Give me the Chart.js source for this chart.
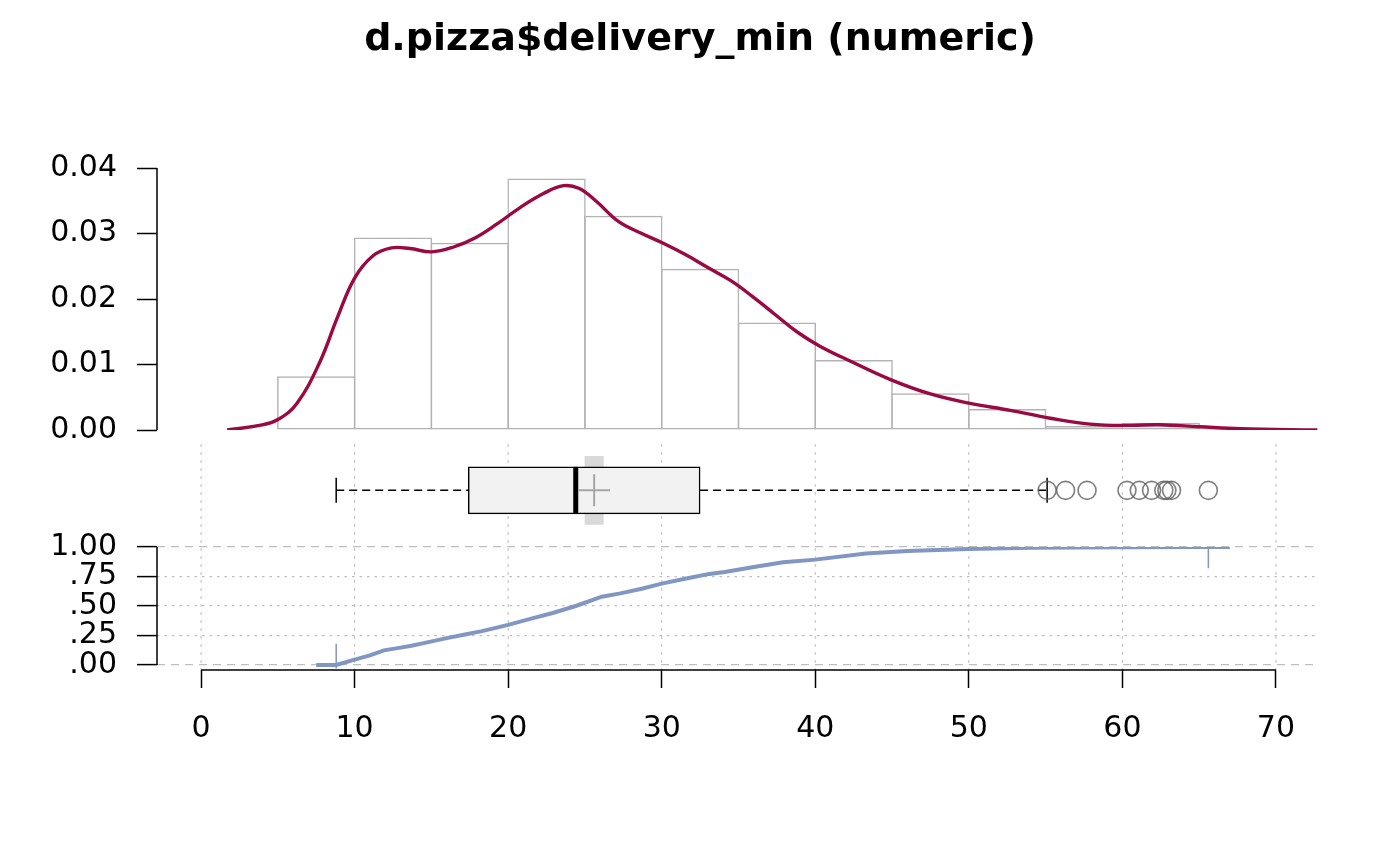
<!DOCTYPE html>
<html>
<head>
<meta charset="utf-8">
<script src="https://cdn.jsdelivr.net/npm/chart.js@4.4.1/dist/chart.umd.min.js"></script>
<style>
  html, body { margin: 0; padding: 0; background: #fff; }
  #wrap { width: 1400px; height: 866px; }
</style>
</head>
<body>
<div id="wrap"><canvas id="chart"></canvas></div>
<script>
// histogram: bin mids (width 5) and density
var binMids = [7.5, 12.5, 17.5, 22.5, 27.5, 32.5, 37.5, 42.5, 47.5, 52.5, 57.5, 62.5, 67.5];
var binDensity = [0.0082, 0.0294, 0.0286, 0.0384, 0.0327, 0.0246, 0.0164, 0.0107, 0.0056, 0.0032, 0.0006, 0.0011, 0.0002];

// kernel density
var densX = [1.7, 3.8, 5.0, 6.25, 7.7, 8.9, 10.0, 11.2, 12.4, 13.6, 15.0, 16.4, 17.9, 19.3, 20.8,
  22.3, 23.6, 24.6, 25.7, 27.2, 28.7, 30.1, 31.6, 33.0, 34.5, 35.9, 37.4, 38.8, 40.3, 42.3,
  44.9, 47.5, 50.0, 52.7, 55.3, 57.9, 60.5, 62.4, 65.0, 67.7, 72.7];
var densY = [0.0000, 0.0007, 0.0016, 0.0041, 0.0102, 0.0173, 0.0232, 0.0266, 0.0278, 0.0277, 0.0272, 0.0279, 0.0294, 0.0315, 0.0340,
  0.0361, 0.0373, 0.0369, 0.0350, 0.0318, 0.0300, 0.0285, 0.0267, 0.0248, 0.0228, 0.0204, 0.0176, 0.0150, 0.0128, 0.0105,
  0.0077, 0.0055, 0.0041, 0.0030, 0.0018, 0.0009, 0.0007, 0.0008, 0.0005, 0.0002, 0.0000];

// boxplot: whisker low, Q1, median, Q3, whisker high
var boxStats = [8.8, 17.4, 24.4, 32.5, 55.1];
var meanValue = 25.6;
var meanCI = [25.0, 26.2];
var outliers = [55.1, 56.3, 57.7, 60.3, 61.1, 61.9, 62.7, 62.9, 63.2, 65.6];

// empirical cdf
var ecdfX = [7.5, 8.8, 10.0, 11.0, 11.9, 12.8, 13.7, 14.8, 16.0, 17.1, 18.3, 20.0, 21.5, 22.9, 24.4,
  26.1, 27.3, 28.7, 30.0, 31.6, 33.1, 34.1, 36.0, 37.9, 40.0, 43.3, 46.0, 50.0, 54.1, 60.0, 65.6, 67.0];
var ecdfY = [0, 0, 0.045, 0.081, 0.124, 0.143, 0.163, 0.194, 0.228, 0.256, 0.287, 0.340, 0.393, 0.441, 0.500,
  0.579, 0.607, 0.646, 0.690, 0.733, 0.772, 0.789, 0.830, 0.870, 0.893, 0.944, 0.966, 0.983, 0.994, 0.998, 1, 1];
var dataRange = [8.8, 65.6];

var xTicks = [0, 10, 20, 30, 40, 50, 60, 70];
var histTicks = [0, 0.01, 0.02, 0.03, 0.04];
var ecdfTicks = [0, 0.25, 0.5, 0.75, 1];
var ecdfTickLabels = [".00", ".25", ".50", ".75", "1.00"];

var FONT = "DejaVu Sans";
var tickFont = { family: FONT, size: 30 };

function pts(xs, ys) {
  return xs.map(function (x, i) { return { x: x, y: ys[i] }; });
}
function setTicks(list) {
  return function (s) { s.ticks = list.map(function (v) { return { value: v }; }); };
}
function fixWidth(s) { s.width = 157; }

// R-like axis lines (only between first and last tick) and lower-panel grid
var rStyle = {
  id: "rStyle",
  beforeDatasetsDraw: function (chart) {
    var ctx = chart.ctx, x = chart.scales.x, yb = chart.scales.yBox, area = chart.chartArea;
    ctx.save();
    ctx.strokeStyle = "#C8C8C8";
    ctx.lineWidth = 1.2;
    ctx.setLineDash([3, 5]);
    xTicks.forEach(function (v) {
      var px = x.getPixelForValue(v);
      ctx.beginPath();
      ctx.moveTo(px, yb.top + 14);
      ctx.lineTo(px, area.bottom);
      ctx.stroke();
    });
    ctx.restore();
  },
  afterDraw: function (chart) {
    var ctx = chart.ctx, s = chart.scales;
    function seg(x1, y1, x2, y2) {
      ctx.beginPath(); ctx.moveTo(x1, y1); ctx.lineTo(x2, y2); ctx.stroke();
    }
    ctx.save();
    ctx.strokeStyle = "#000";
    ctx.lineWidth = 1.5;
    seg(s.yHist.right, s.yHist.getPixelForValue(histTicks[0]),
        s.yHist.right, s.yHist.getPixelForValue(histTicks[histTicks.length - 1]));
    seg(s.yEcdf.right, s.yEcdf.getPixelForValue(ecdfTicks[0]),
        s.yEcdf.right, s.yEcdf.getPixelForValue(ecdfTicks[ecdfTicks.length - 1]));
    seg(s.x.getPixelForValue(xTicks[0]), s.x.top,
        s.x.getPixelForValue(xTicks[xTicks.length - 1]), s.x.top);
    ctx.restore();
  }
};

var ctx = document.getElementById("chart").getContext("2d");

var chart = new Chart(ctx, {
  type: "bar",
  data: {
    datasets: [
      {
        type: "line", label: "range", xAxisID: "x", yAxisID: "yEcdf", order: 1,
        data: [{ x: dataRange[0], y: -0.03 }, { x: dataRange[0], y: 0.18 }, { x: dataRange[0], y: null },
               { x: dataRange[1], y: 0.82 }, { x: dataRange[1], y: 1.04 }],
        borderColor: "#8296C4", borderWidth: 1.5, pointRadius: 0, spanGaps: false
      },
      {
        type: "line", label: "ecdf", xAxisID: "x", yAxisID: "yEcdf", order: 2,
        data: pts(ecdfX, ecdfY),
        borderColor: "#8296C4", borderWidth: 4, pointRadius: 0, tension: 0
      },
      {
        type: "line", label: "outliers", xAxisID: "xBox", yAxisID: "yBox", order: 1,
        data: outliers.map(function (v) { return { x: v, y: 0 }; }),
        showLine: false, pointStyle: "circle", pointRadius: 9,
        pointBorderColor: "rgba(95,95,95,0.8)", pointBackgroundColor: "rgba(0,0,0,0)", pointBorderWidth: 1.6
      },
      {
        type: "line", label: "mean", xAxisID: "xBox", yAxisID: "yBox", order: 2,
        data: [{ x: meanValue, y: 0 }],
        showLine: false, pointStyle: "cross", pointRadius: 16,
        pointBorderColor: "#A6A6A6", pointBorderWidth: 2
      },
      {
        type: "line", label: "median", xAxisID: "xBox", yAxisID: "yBox", order: 3,
        data: [{ x: boxStats[2], y: 0 }],
        showLine: false, pointStyle: "line", rotation: 90, pointRadius: 23.5,
        pointBorderColor: "#000", pointBorderWidth: 5
      },
      {
        type: "line", label: "caps", xAxisID: "xBox", yAxisID: "yBox", order: 4,
        data: [{ x: boxStats[0], y: 0 }, { x: boxStats[4], y: 0 }],
        showLine: false, pointStyle: "line", rotation: 90, pointRadius: 12.5,
        pointBorderColor: "#000", pointBorderWidth: 1.5
      },
      {
        type: "bar", label: "box", xAxisID: "xBox", yAxisID: "yBox", indexAxis: "y", order: 5,
        data: [{ x: [boxStats[1], boxStats[3]], y: 0 }],
        grouped: false, barThickness: 47,
        backgroundColor: "#F2F2F2", borderColor: "#000", borderWidth: 1.5, borderSkipped: false
      },
      {
        type: "line", label: "whiskerLo", xAxisID: "xBox", yAxisID: "yBox", order: 6,
        data: [{ x: boxStats[0], y: 0 }, { x: boxStats[1], y: 0 }],
        borderColor: "#000", borderWidth: 1.5, borderDash: [8, 5], pointRadius: 0
      },
      {
        type: "line", label: "whiskerHi", xAxisID: "xBox", yAxisID: "yBox", order: 6,
        data: [{ x: boxStats[3], y: 0 }, { x: boxStats[4], y: 0 }],
        borderColor: "#000", borderWidth: 1.5, borderDash: [8, 5], pointRadius: 0
      },
      {
        type: "bar", label: "meanCI", xAxisID: "xBox", yAxisID: "yBox", indexAxis: "y", order: 7,
        data: [{ x: meanCI, y: 0 }],
        grouped: false, barThickness: 68,
        backgroundColor: "#D9D9D9", borderWidth: 0
      },
      {
        type: "line", label: "density", xAxisID: "x", yAxisID: "yHist", order: 8,
        data: pts(densX, densY),
        borderColor: "#9A0941", borderWidth: 3.4, pointRadius: 0, tension: 0.4
      },
      {
        type: "bar", label: "hist", xAxisID: "x", yAxisID: "yHist", order: 9,
        data: pts(binMids, binDensity),
        grouped: false, barPercentage: 1.02, categoryPercentage: 1,
        backgroundColor: "rgba(0,0,0,0)", borderColor: "#B3B3B3", borderWidth: 1.5, borderSkipped: false
      }
    ]
  },
  options: {
    responsive: true,
    maintainAspectRatio: false,
    animation: false,
    events: [],
    layout: { padding: 0 },
    plugins: {
      legend: { display: false },
      tooltip: { enabled: false },
      title: {
        display: true,
        text: "d.pizza$delivery_min (numeric)",
        color: "#000",
        font: { family: FONT, size: 38, weight: "bold", lineHeight: 1.2 },
        padding: { top: 17.2, bottom: 105.2 }
      }
    },
    scales: {
      x: {
        type: "linear", position: "bottom", min: -2.87, max: 72.74, offset: false,
        afterBuildTicks: setTicks(xTicks),
        afterFit: function (s) { s.height = 196; },
        grid: { offset: false, drawOnChartArea: false, drawTicks: true, tickLength: 18, tickColor: "#000", tickWidth: 1.5 },
        border: { display: false },
        ticks: { color: "#000", font: tickFont, padding: 23, maxRotation: 0, autoSkip: false }
      },
      xBox: {
        type: "linear", position: "bottom", min: -2.87, max: 72.74, offset: false, display: false
      },
      yHist: {
        type: "linear", position: "left", stack: "panels", stackWeight: 262, weight: 3,
        min: 0, max: 0.04,
        afterBuildTicks: setTicks(histTicks),
        afterFit: fixWidth,
        grid: { drawOnChartArea: false, drawTicks: true, tickLength: 20, tickColor: "#000", tickWidth: 1.5 },
        border: { display: false },
        ticks: {
          color: "#000", font: tickFont, padding: 20, autoSkip: false,
          callback: function (v) { return v.toFixed(2); }
        }
      },
      yBox: {
        type: "linear", position: "left", stack: "panels", stackWeight: 117, weight: 2,
        min: -0.96, max: 1.04,
        afterFit: fixWidth,
        grid: { display: false },
        border: { display: false },
        ticks: { display: false }
      },
      yEcdf: {
        type: "linear", position: "left", stack: "panels", stackWeight: 123, weight: 1,
        min: -0.0424, max: 1,
        afterBuildTicks: setTicks(ecdfTicks),
        afterFit: fixWidth,
        grid: { color: "#BEBEBE", lineWidth: 1.2, drawTicks: true, tickLength: 20, tickColor: "#000", tickWidth: 1.5 },
        border: {
          display: false,
          dash: function (c) {
            var v = c.tick ? c.tick.value : 0;
            return (v === 0 || v === 1) ? [8, 6] : [2.5, 5];
          }
        },
        ticks: {
          color: "#000", font: tickFont, padding: 20, autoSkip: false,
          callback: function (v, i) { return ecdfTickLabels[i]; }
        }
      },
      // empty right margin so the title centres on the full page
      yPad: {
        type: "linear", position: "right",
        afterFit: function (s) { s.width = 82; },
        grid: { display: false },
        border: { display: false },
        ticks: { display: false }
      }
    }
  },
  plugins: [rStyle]
});
</script>
</body>
</html>
